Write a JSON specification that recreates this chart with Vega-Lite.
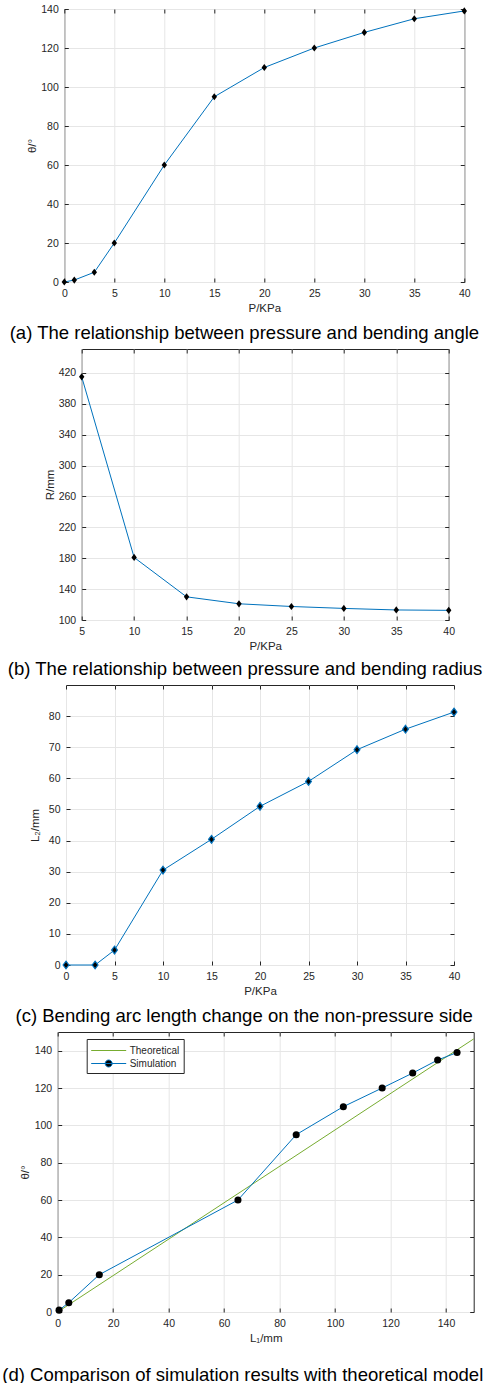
{
  "$schema": "https://vega.github.io/schema/vega-lite/v6.json",
  "padding": {"left": 0, "top": 3, "right": 0, "bottom": 0},
  "background": "white",
  "config": {
    "font": "Liberation Sans",
    "view": {"stroke": "#262626", "strokeWidth": 1},
    "axis": {
      "domain": false,
      "grid": true,
      "gridColor": "#e6e6e6",
      "gridWidth": 1,
      "tickColor": "#262626",
      "tickSize": -4,
      "labelColor": "#262626",
      "labelFont": "Liberation Sans",
      "labelFontSize": 10.5,
      "labelPadding": 10,
      "labelFlush": false,
      "labelOverlap": false,
      "titleColor": "#262626",
      "titleFont": "Liberation Sans",
      "titleFontSize": 11.5,
      "titleFontWeight": "normal"
    },
    "title": {"font": "Liberation Sans", "fontSize": 18.55, "fontWeight": "normal", "color": "black", "orient": "bottom", "anchor": "middle", "frame": "group", "offset": 6}
  },
  "resolve": {"scale": {"color": "independent"}, "legend": {"color": "independent"}},
  "spacing": 4,
  "vconcat": [
    {"spacing": 7.3, "hconcat": [
    {"width": 1, "height": 1, "view": {"stroke": null, "fill": null}, "data": {"values": [{"s": 0}]}, "mark": {"type": "point", "opacity": 0, "size": 1}, "encoding": {}},
    {
      "width": 400, "height": 273,
      "title": {"text": "(a) The relationship between pressure and bending angle", "dx": -19.9, "offset": 10},
      "data": {"values": [
        {"P": 0, "theta": 0}, {"P": 1, "theta": 1}, {"P": 3, "theta": 5}, {"P": 5, "theta": 20},
        {"P": 10, "theta": 60}, {"P": 15, "theta": 95}, {"P": 20, "theta": 110}, {"P": 25, "theta": 120},
        {"P": 30, "theta": 128}, {"P": 35, "theta": 135}, {"P": 40, "theta": 139}
      ]},
      "resolve": {"axis": {"x": "independent", "y": "independent"}},
      "layer": [
        {"mark": {"type": "line", "color": "#0072BD", "strokeWidth": 1},
         "encoding": {
           "x": {"field": "P", "type": "quantitative", "scale": {"domain": [0, 40], "nice": false, "zero": false}, "axis": {"title": "P/KPa", "values": [0,5,10,15,20,25,30,35,40]}},
           "y": {"field": "theta", "type": "quantitative", "scale": {"domain": [0, 140], "nice": false, "zero": false}, "axis": {"title": "θ/°", "values": [0,20,40,60,80,100,120,140], "titlePadding": 3}}
         }},
        {"mark": {"type": "point", "shape": "M0,-1L0.75,0L0,1L-0.75,0Z", "filled": true, "color": "black", "size": 52, "opacity": 1},
         "encoding": {
           "x": {"field": "P", "type": "quantitative", "axis": {"orient": "top", "labels": false, "title": null, "grid": false, "values": [0,5,10,15,20,25,30,35,40]}},
           "y": {"field": "theta", "type": "quantitative", "axis": {"orient": "right", "labels": false, "title": null, "grid": false, "values": [0,20,40,60,80,100,120,140]}}
         }}
      ]
    }]},
    {"spacing": 5.7, "hconcat": [
    {"width": 1, "height": 1, "view": {"stroke": null, "fill": null}, "data": {"values": [{"s": 0}]}, "mark": {"type": "point", "opacity": 0, "size": 1}, "encoding": {}},
    {
      "width": 367, "height": 271,
      "title": {"text": "(b) The relationship between pressure and bending radius", "dx": -20.1, "offset": 8},
      "data": {"values": [
        {"P": 5, "R": 415}, {"P": 10, "R": 181}, {"P": 15, "R": 130}, {"P": 20, "R": 121},
        {"P": 25, "R": 117.5}, {"P": 30, "R": 115}, {"P": 35, "R": 113}, {"P": 40, "R": 112.5}
      ]},
      "resolve": {"axis": {"x": "independent", "y": "independent"}},
      "layer": [
        {"mark": {"type": "line", "color": "#0072BD", "strokeWidth": 1},
         "encoding": {
           "x": {"field": "P", "type": "quantitative", "scale": {"domain": [5, 40], "nice": false, "zero": false}, "axis": {"title": "P/KPa", "values": [5,10,15,20,25,30,35,40]}},
           "y": {"field": "R", "type": "quantitative", "scale": {"domain": [100, 451], "nice": false, "zero": false}, "axis": {"title": "R/mm", "values": [100,140,180,220,260,300,340,380,420], "titlePadding": 3}}
         }},
        {"mark": {"type": "point", "shape": "M0,-1L0.75,0L0,1L-0.75,0Z", "filled": true, "color": "black", "size": 52, "opacity": 1},
         "encoding": {
           "x": {"field": "P", "type": "quantitative", "axis": {"orient": "top", "labels": false, "title": null, "grid": false, "values": [5,10,15,20,25,30,35,40]}},
           "y": {"field": "R", "type": "quantitative", "axis": {"orient": "right", "labels": false, "title": null, "grid": false, "values": [100,140,180,220,260,300,340,380,420]}}
         }}
      ]
    }]},
    {"spacing": 14, "hconcat": [
    {"width": 1, "height": 1, "view": {"stroke": null, "fill": null}, "data": {"values": [{"s": 0}]}, "mark": {"type": "point", "opacity": 0, "size": 1}, "encoding": {}},
    {
      "width": 388, "height": 280,
      "title": {"text": "(c) Bending arc length change on the non-pressure side", "dx": -15.8, "offset": 10},
      "data": {"values": [
        {"P": 0, "L2": 0}, {"P": 3, "L2": 0}, {"P": 5, "L2": 4.8}, {"P": 10, "L2": 30.5},
        {"P": 15, "L2": 40.4}, {"P": 20, "L2": 51}, {"P": 25, "L2": 59}, {"P": 30, "L2": 69.2},
        {"P": 35, "L2": 75.8}, {"P": 40, "L2": 81.3}
      ]},
      "resolve": {"axis": {"x": "independent", "y": "independent"}},
      "layer": [
        {"mark": {"type": "line", "color": "#0072BD", "strokeWidth": 1},
         "encoding": {
           "x": {"field": "P", "type": "quantitative", "scale": {"domain": [0, 40], "nice": false, "zero": false}, "axis": {"title": "P/KPa", "values": [0,5,10,15,20,25,30,35,40]}},
           "y": {"field": "L2", "type": "quantitative", "scale": {"domain": [0, 90], "nice": false, "zero": false}, "axis": {"title": "L₂/mm", "values": [0,10,20,30,40,50,60,70,80], "titlePadding": 8}}
         }},
        {"mark": {"type": "point", "shape": "M0,-1L0.75,0L0,1L-0.75,0Z", "filled": true, "fill": "black", "stroke": "#0072BD", "strokeWidth": 1.2, "size": 60, "opacity": 1},
         "encoding": {
           "x": {"field": "P", "type": "quantitative", "axis": {"orient": "top", "labels": false, "title": null, "grid": false, "values": [0,5,10,15,20,25,30,35,40]}},
           "y": {"field": "L2", "type": "quantitative", "axis": {"orient": "right", "labels": false, "title": null, "grid": false, "values": [0,10,20,30,40,50,60,70,80]}}
         }}
      ]
    }]},
    {"spacing": 0.7, "resolve": {"scale": {"color": "independent"}, "legend": {"color": "independent"}},
     "hconcat": [
    {"width": 1, "height": 1, "view": {"stroke": null, "fill": null}, "data": {"values": [{"s": 0}]}, "mark": {"type": "point", "opacity": 0, "size": 1}, "encoding": {}},
    {
      "width": 416, "height": 280,
      "title": {"text": "(d) Comparison of simulation results with theoretical model", "dx": -22.9, "offset": 22},
      "data": {"values": [
        {"series": "Theoretical", "L1": 0.5, "theta": 0.5},
        {"series": "Theoretical", "L1": 150, "theta": 146.3},
        {"series": "Simulation", "L1": 0.5, "theta": 1},
        {"series": "Simulation", "L1": 4, "theta": 5},
        {"series": "Simulation", "L1": 15, "theta": 20},
        {"series": "Simulation", "L1": 65, "theta": 60},
        {"series": "Simulation", "L1": 86, "theta": 95},
        {"series": "Simulation", "L1": 103, "theta": 110},
        {"series": "Simulation", "L1": 117, "theta": 120},
        {"series": "Simulation", "L1": 128, "theta": 128},
        {"series": "Simulation", "L1": 137, "theta": 135},
        {"series": "Simulation", "L1": 144, "theta": 139}
      ]},
      "resolve": {"axis": {"x": "independent", "y": "independent"}},
      "layer": [
        {"mark": {"type": "line", "strokeWidth": 1},
         "encoding": {
           "x": {"field": "L1", "type": "quantitative", "scale": {"domain": [0, 150], "nice": false, "zero": false}, "axis": {"title": "L₁/mm", "values": [0,20,40,60,80,100,120,140]}},
           "y": {"field": "theta", "type": "quantitative", "scale": {"domain": [0, 150], "nice": false, "zero": false}, "axis": {"title": "θ/°", "values": [0,20,40,60,80,100,120,140], "titlePadding": 4}},
           "color": {"field": "series", "type": "nominal", "sort": ["Theoretical", "Simulation"],
             "scale": {"domain": ["Theoretical", "Simulation"], "range": ["#77AC30", "#0072BD"]},
             "legend": {"title": null, "orient": "none", "legendX": 29, "legendY": 7,
               "strokeColor": "#262626", "fillColor": "white", "padding": 4,
               "labelFont": "Liberation Sans", "labelFontSize": 10, "labelColor": "#262626", "labelOffset": 24,
               "symbolSize": 196, "symbolStrokeWidth": 1, "rowPadding": 0,
               "encode": {"symbols": {"update": {
                 "shape": {"signal": "datum.value === 'Simulation' ? 'M-1,0L4,0M1,0A0.5,0.5 0 1 1 2,0A0.5,0.5 0 1 1 1,0Z' : 'M-1,0L4,0'"},
                 "fill": {"signal": "datum.value === 'Simulation' ? 'black' : 'transparent'"},
                 "strokeWidth": {"value": 1}
               }}}}}
         }},
        {"transform": [{"filter": "datum.series === 'Simulation'"}],
         "mark": {"type": "point", "shape": "circle", "filled": true, "color": "black", "size": 50, "opacity": 1},
         "encoding": {
           "x": {"field": "L1", "type": "quantitative", "axis": {"orient": "top", "labels": false, "title": null, "grid": false, "values": [0,20,40,60,80,100,120,140]}},
           "y": {"field": "theta", "type": "quantitative", "axis": {"orient": "right", "labels": false, "title": null, "grid": false, "values": [0,20,40,60,80,100,120,140]}}
         }}
      ]
    }]}
  ]
}
